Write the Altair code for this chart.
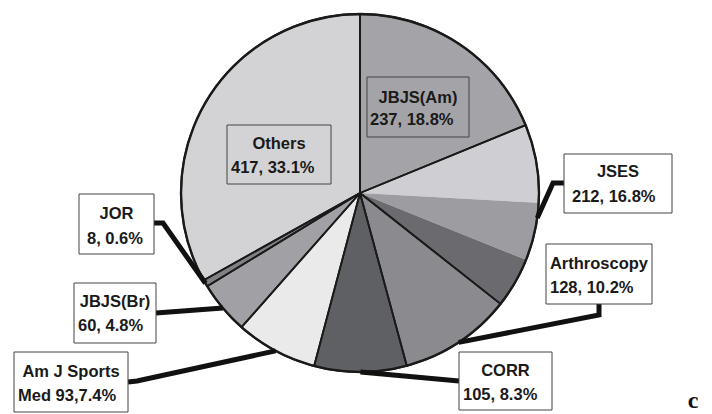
import math
import altair as alt
import pandas as pd

# ---------------- data ----------------
names = ["JBJS(Am)", "JSES", "Arthroscopy", "CORR", "Am J Sports Med", "JBJS(Br)", "JOR", "Others"]
counts = [237, 212, 128, 105, 93, 60, 8, 417]
percents = [18.8, 16.8, 10.2, 8.3, 7.4, 4.8, 0.6, 33.1]
line1 = ["JBJS(Am)", "JSES", "Arthroscopy", "CORR", "Am J Sports", "JBJS(Br)", "JOR", "Others"]
line2 = ["237, 18.8%", "212, 16.8%", "128, 10.2%", "105, 8.3%", "Med 93,7.4%", "60, 4.8%", "8, 0.6%", "417, 33.1%"]

# ---------------- style / layout ----------------
slice_colors = ["#a4a4a8", "#9d9da1", "#8b8b8f", "#5f6064", "#e9eae9", "#a1a1a5", "#818185", "#d3d3d6"]
jses_band_colors = ["#cfcfd3", "#9d9da1", "#6b6b6f"]
jses_band_shares = [0.42, 0.31, 0.27]
W, H = 712, 414
CX, CY, R = 360, 193, 179
FONT = "Liberation Sans"
FS = 16.5

# label boxes: x1, x2, y1, y2, line1 y, line2 x, line2 y, filled
boxes = {
    "JBJS(Am)":        (367, 469, 77, 137, 98, 370, 120, False),
    "JSES":            (564, 672, 154, 213, 172, 572, 197, True),
    "Arthroscopy":     (546, 652, 244, 304, 264, 550, 288, True),
    "CORR":            (459, 552, 352, 410, 371, 463, 395, True),
    "Am J Sports Med": (14, 128, 352, 412, 372, 18, 396, True),
    "JBJS(Br)":        (74, 156, 283, 343, 302, 78, 326, True),
    "JOR":             (79, 154, 194, 254, 214, 87, 239, True),
    "Others":          (227, 331, 125, 184, 144, 231, 168, False),
}
# leader lines: points from box edge (and elbow) to the slice rim
leader_pts = {
    "JSES":            [(564, 183), (553, 183)],
    "Arthroscopy":     [(599, 304), (599, 315)],
    "CORR":            [(459, 381)],
    "Am J Sports Med": [(128, 382), (137, 381)],
    "JBJS(Br)":        [(156, 313)],
    "JOR":             [(154, 223), (163, 223)],
}

total = sum(counts)

# fill rows (JSES split into shaded bands)
fill_rows = []
o = 0
for n, c, col in zip(names, counts, slice_colors):
    if n == "JSES":
        for bc, share in zip(jses_band_colors, jses_band_shares):
            fill_rows.append({"name": n, "v": c * share, "o": o, "col": bc})
            o += 1
    else:
        fill_rows.append({"name": n, "v": c, "o": o, "col": col})
        o += 1
fill_df = pd.DataFrame(fill_rows)
outline_df = pd.DataFrame({"name": names, "v": counts, "o": list(range(len(names)))})
rim_df = pd.DataFrame({"name": ["all"], "v": [total], "o": [0]})

# leader line rows: anchor at mid-angle of each slice on the rim
line_rows = []
cum = 0
for n, c in zip(names, counts):
    mid = (cum + c / 2) / total * 2 * math.pi
    cum += c
    if n in leader_pts:
        pts = leader_pts[n] + [(CX + R * math.sin(mid), CY - R * math.cos(mid))]
        for i, (px, py) in enumerate(pts):
            line_rows.append({"name": n, "seq": i, "x": px, "y": py})
line_df = pd.DataFrame(line_rows)

box_rows = []
for n, l1, l2 in zip(names, line1, line2):
    x1, x2, y1, y2, l1y, l2x, l2y, filled = boxes[n]
    box_rows.append({"name": n, "x1": x1, "x2": x2, "y1": y1, "y2": y2,
                     "cx": (x1 + x2) / 2, "l1y": l1y, "l2x": l2x, "l2y": l2y,
                     "t1": l1, "t2": l2, "fill": "white" if filled else "transparent"})
box_df = pd.DataFrame(box_rows)

xs = alt.Scale(domain=[0, W], nice=False, zero=False)
ys = alt.Scale(domain=[H, 0], nice=False, zero=False)
theta_scale = alt.Scale(domain=[0, total])

fill_layer = alt.Chart(fill_df).mark_arc(radius=R, strokeWidth=0).encode(
    theta=alt.Theta("v:Q", stack=True, scale=theta_scale),
    order=alt.Order("o:Q"),
    color=alt.Color("col:N", scale=None),
    x=alt.value(CX), y=alt.value(CY),
)
outline_layer = alt.Chart(outline_df).mark_arc(
    radius=R, fillOpacity=0, stroke="#1a1a1a", strokeWidth=1.8, strokeJoin="round"
).encode(
    theta=alt.Theta("v:Q", stack=True, scale=theta_scale),
    order=alt.Order("o:Q"),
    color=alt.value("white"),
    x=alt.value(CX), y=alt.value(CY),
)
rim_layer = alt.Chart(rim_df).mark_arc(
    radius=R, fillOpacity=0, stroke="#1a1a1a", strokeWidth=2.4
).encode(
    theta=alt.Theta("v:Q", stack=True, scale=theta_scale),
    color=alt.value("white"),
    x=alt.value(CX), y=alt.value(CY),
)
lines = alt.Chart(line_df).mark_line(strokeWidth=5, color="#111111", strokeJoin="miter").encode(
    x=alt.X("x:Q", scale=xs, axis=None),
    y=alt.Y("y:Q", scale=ys, axis=None),
    detail="name:N",
    order="seq:Q",
)
rects = alt.Chart(box_df).mark_rect(stroke="#444444", strokeWidth=1).encode(
    x=alt.X("x1:Q", scale=xs, axis=None), x2="x2:Q",
    y=alt.Y("y1:Q", scale=ys, axis=None), y2="y2:Q",
    fill=alt.Color("fill:N", scale=None),
)
t1 = alt.Chart(box_df).mark_text(font=FONT, fontSize=FS, fontWeight="bold", color="#1a1a1a",
                                  align="center", baseline="middle").encode(
    x=alt.X("cx:Q", scale=xs, axis=None), y=alt.Y("l1y:Q", scale=ys, axis=None), text="t1:N")
t2 = alt.Chart(box_df).mark_text(font=FONT, fontSize=FS, fontWeight="bold", color="#1a1a1a",
                                  align="left", baseline="middle").encode(
    x=alt.X("l2x:Q", scale=xs, axis=None), y=alt.Y("l2y:Q", scale=ys, axis=None), text="t2:N")
panel = alt.Chart(pd.DataFrame({"x": [693], "y": [401], "t": ["c"]})).mark_text(
    font="Liberation Serif", fontSize=24, fontWeight="bold", color="#111111",
    align="center", baseline="middle").encode(
    x=alt.X("x:Q", scale=xs, axis=None), y=alt.Y("y:Q", scale=ys, axis=None), text="t:N")

chart = alt.layer(fill_layer, outline_layer, rim_layer, lines, rects, t1, t2, panel).properties(
    width=W, height=H, autosize=alt.AutoSizeParams(type="none"), padding=0,
    background="white",
).configure_view(stroke=None)

chart.save("out.html", embed_options={"renderer": "svg", "actions": False})
